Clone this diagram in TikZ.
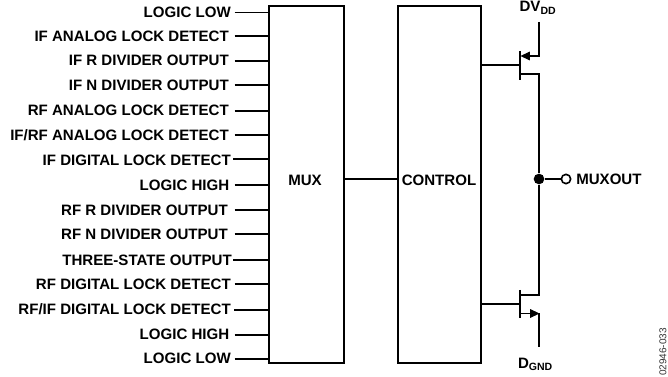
\documentclass[tikz,border=0pt]{standalone}
\usepackage{fontspec}
\setmainfont{Liberation Sans}
\usetikzlibrary{arrows.meta}
\begin{document}
\begin{tikzpicture}[x=0.75pt,y=-0.75pt,
  lab/.style={font=\fontsize{11.3}{13}\selectfont\bfseries,inner sep=0pt},
  inl/.style={lab,anchor=east},
  block/.style={draw,line width=1.6pt,inner sep=0pt,anchor=north west},
  wire/.style={line width=1.2pt},
  thin wire/.style={line width=0.9pt},
  tip/.style={-{Triangle[length=7pt,width=6.5pt]}}]
\useasboundingbox (0,0) rectangle (668,377);
\node[block,minimum width=56pt,minimum height=267.75pt] (mux) at (268,5) {};
\node[block,minimum width=62.25pt,minimum height=267.75pt] (ctl) at (397,5) {};
\node[lab] (muxt) at (305,180) {MUX};
\node[lab] (ctlt) at (439,180) {CONTROL};
\foreach \i/\y/\l/\e/\s/\t in {a/12/12.5/231/234.5/{LOGIC LOW},b/36/36/229/234.5/{IF ANALOG LOCK DETECT},c/60/61/229/234.5/{IF R DIVIDER OUTPUT},d/85/85/229/234.5/{IF N DIVIDER OUTPUT},e/110/111/229/234.5/{RF ANALOG LOCK DETECT},f/135/135/229/234.5/{IF/RF ANALOG LOCK DETECT},g/160/159/231/233/{IF DIGITAL LOCK DETECT},h/185/185/229.5/234.5/{LOGIC HIGH},i/210/210/228/234.5/{RF R DIVIDER OUTPUT},j/234/234/228/234.5/{RF N DIVIDER OUTPUT},k/260/260/232/233/{THREE-STATE OUTPUT},l/284/284/231/234.5/{RF DIGITAL LOCK DETECT},m/309/310/231/234/{RF/IF DIGITAL LOCK DETECT},n/334/335/229.5/234.5/{LOGIC HIGH},o/358/359/231/234.5/{LOGIC LOW}}{
  \node[inl] (t\i) at (\e,\y) {\t};
  \coordinate (s\i) at (\s,\l);
  \draw[wire] (s\i) -- (s\i -| mux.west);
}
\draw[wire] (mux.east |- 0,179) -- (ctl.west |- 0,179);
% transistors
\coordinate (g1) at (520,65);
\coordinate (g2) at (520,304);
\draw[thin wire] (ctl.east |- g1) -- (g1);
\draw[thin wire] (ctl.east |- g2) -- (g2);
\draw[line width=1.2pt] (520,51) -- (520,80);
\draw[line width=1.2pt] (520,290) -- (520,318);
\coordinate (vdd) at (539,22);
\coordinate (vss) at (539,347);
\node[circle,fill,inner sep=0pt,minimum size=8pt] (jn) at (539,179) {};
\node[circle,draw,line width=1.2pt,inner sep=0pt,minimum size=7pt] (out) at (566,179) {};
\draw[wire] (vdd) -- (539,56) -- (530,56);
\draw[tip,line width=0.5pt] (531,56) -- (520.5,56);
\draw[wire] (520,74) -- (539,74) -- (jn);
\draw[wire] (jn) -- (539,295) -- (520,295);
\draw[wire] (520,313.5) -- (530,313.5);
\draw[tip,line width=0.5pt] (528,313.5) -- (539.5,313.5);
\draw[wire] (vss) -- (539,313);
\draw[wire] (jn) -- (out);
\node[lab,anchor=west] (mo) at (576,179) {MUXOUT};
\node[lab,anchor=base] (dv) at (538,12) {DV\textsubscript{DD}};
\node[lab,anchor=base] (dg) at (535.5,368.5) {D\textsubscript{GND}};
\node[font=\fontsize{7.5}{8}\selectfont,rotate=90,inner sep=0pt,text=black!80] (id) at (663,352) {02946-033};
\end{tikzpicture}
\end{document}
